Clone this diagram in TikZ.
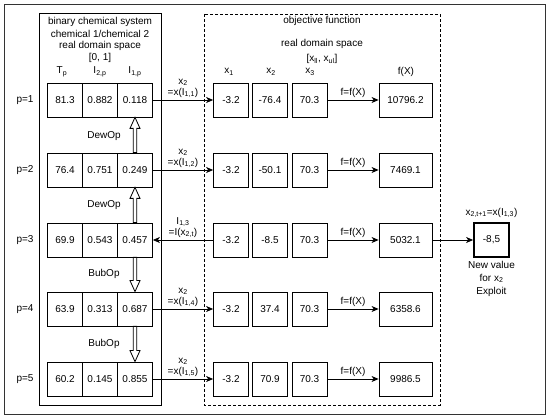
\documentclass[tikz,border=0pt]{standalone}
\usepackage{fontspec}
\setmainfont{Liberation Sans}
\usetikzlibrary{arrows.meta}
\newcommand\sbs[1]{\textsubscript{#1}}
\begin{document}
\begin{tikzpicture}[x=1pt,y=-1pt,
  font=\fontsize{10}{11}\selectfont,
  cell/.style={draw, minimum width=35pt, minimum height=34pt, inner sep=0pt, line width=0.8pt},
  fcell/.style={cell, minimum width=53pt},
  newcell/.style={cell, line width=1.8pt},
  conn/.style={line width=0.8pt, -{Stealth[length=7pt,width=6pt,inset=2pt]}},
  lbl/.style={inner sep=1pt, align=center},
  hollow/.style={draw, fill=white, line width=0.8pt, line join=miter}
]
\useasboundingbox (0,0) rectangle (550,419);
\draw[line width=0.8pt, black!80] (4,4) rectangle (545,414);
\draw[line width=0.8pt] (39,13) rectangle (161,405);
\draw[line width=0.8pt, dashed, dash pattern=on 3pt off 2pt] (204,14) rectangle (440,405);

% header texts
\node[lbl] (h1) at (100,22) {binary chemical system};
\node[lbl] (h2) at (100,34) {chemical 1/chemical 2};
\node[lbl] (h3) at (100,46) {real domain space};
\node[lbl] (h4) at (100,58) {[0, 1]};
\node[lbl] (tp) at (62,72) {T\sbs{p}};
\node[lbl] (i2p) at (100,72) {I\sbs{2,p}};
\node[lbl] (i1p) at (135,72) {I\sbs{1,p}};

\node[lbl] (oh1) at (322,21) {objective function};
\node[lbl] (oh2) at (322,44) {real domain space};
\node[lbl] (oh3) at (322,59) {[x\sbs{ll}, x\sbs{ul}]};
\node[lbl] (hx1) at (229,72) {x\sbs{1}};
\node[lbl] (hx2) at (271,72) {x\sbs{2}};
\node[lbl] (hx3) at (310,72) {x\sbs{3}};
\node[lbl] (hf) at (406,72) {f(X)};

% rows
\foreach \r/\y/\t/\a/\b/\xa/\xb/\xc/\fv in {
  1/100/81.3/0.882/0.118/-3.2/-76.4/70.3/10796.2,
  2/170/76.4/0.751/0.249/-3.2/-50.1/70.3/7469.1,
  3/240/69.9/0.543/0.457/-3.2/-8.5/70.3/5032.1,
  4/309/63.9/0.313/0.687/-3.2/37.4/70.3/6358.6,
  5/379/60.2/0.145/0.855/-3.2/70.9/70.3/9986.5}{
  \node[lbl] (p\r) at (25,\y) {p=\r};
  \node[cell] (t\r) at (65,\y) {\t};
  \node[cell] (a\r) at (100,\y) {\a};
  \node[cell] (b\r) at (135,\y) {\b};
  \node[cell] (xa\r) at (231,\y) {\xa};
  \node[cell] (xb\r) at (270,\y) {\xb};
  \node[cell] (xc\r) at (309.5,\y) {\xc};
  \node[fcell] (f\r) at (405.5,\y) {\fv};
  \draw[conn] (xc\r) -- node[lbl, above=1pt] (fl\r) {f=f(X)} (f\r);
}

% connectors left <-> right
\draw[conn] (b1) -- node[lbl, above=1pt] (l1) {x\sbs{2}\\=x(I\sbs{1,1})} (xa1);
\draw[conn] (b2) -- node[lbl, above=1pt] (l2) {x\sbs{2}\\=x(I\sbs{1,2})} (xa2);
\draw[conn] (xa3) -- node[lbl, above=1pt] (l3) {I\sbs{1,3}\\=I(x\sbs{2,t})} (b3);
\draw[conn] (b4) -- node[lbl, above=1pt] (l4) {x\sbs{2}\\=x(I\sbs{1,4})} (xa4);
\draw[conn] (b5) -- node[lbl, above=1pt] (l5) {x\sbs{2}\\=x(I\sbs{1,5})} (xa5);

% new value
\node[newcell] (nv) at (491.5,240) {-8,5};
\node[lbl, above=3pt] (nvl) at (nv.north) {x\sbs{2,t+1}=x(I\sbs{1,3})};
\node[lbl, below=2pt, font=\fontsize{10}{13}\selectfont] (nvb) at (nv.south) {New value\\for x\sbs{2}\\Exploit};
\draw[conn] (f3) -- (nv);

% hollow arrows (up: DewOp)
\foreach \lo/\hi in {2/1,3/2}{
  \filldraw[hollow] ([xshift=-1.8pt]b\lo.north) -- ([xshift=-1.8pt,yshift=-11pt]b\hi.south)
    -- ([xshift=-5pt,yshift=-11pt]b\hi.south) -- (b\hi.south)
    -- ([xshift=5pt,yshift=-11pt]b\hi.south) -- ([xshift=1.8pt,yshift=-11pt]b\hi.south)
    -- ([xshift=1.8pt]b\lo.north) -- cycle;
}
% hollow arrows (down: BubOp)
\foreach \hi/\lo in {3/4,4/5}{
  \filldraw[hollow] ([xshift=-1.8pt]b\hi.south) -- ([xshift=-1.8pt,yshift=11pt]b\lo.north)
    -- ([xshift=-5pt,yshift=11pt]b\lo.north) -- (b\lo.north)
    -- ([xshift=5pt,yshift=11pt]b\lo.north) -- ([xshift=1.8pt,yshift=11pt]b\lo.north)
    -- ([xshift=1.8pt]b\hi.south) -- cycle;
}
\node[lbl] (d1) at (104,136) {DewOp};
\node[lbl] (d2) at (104,205) {DewOp};
\node[lbl] (u1) at (104,274) {BubOp};
\node[lbl] (u2) at (104,344) {BubOp};
\end{tikzpicture}
\end{document}
